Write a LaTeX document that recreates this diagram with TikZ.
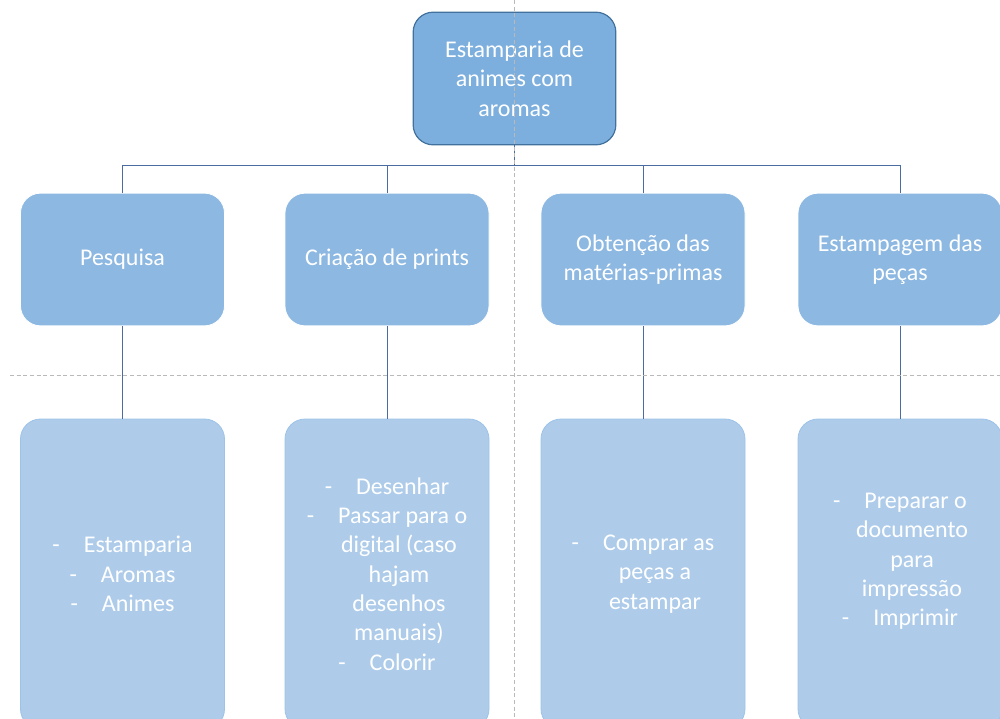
\documentclass[tikz,border=0pt]{standalone}
\usepackage{fontspec}
\setmainfont{Carlito}
\usetikzlibrary{calc}
\definecolor{azulTopo}{RGB}{124,175,221}
\definecolor{bordaTopo}{RGB}{65,113,156}
\definecolor{azulMeio}{RGB}{140,184,226}
\definecolor{azulBaixo}{RGB}{174,204,234}
\definecolor{bordaBaixo}{RGB}{157,195,232}
\definecolor{linhaAzul}{RGB}{74,108,160}
\definecolor{guia}{RGB}{185,185,185}
\tikzset{
  caixa/.style={rounded corners=15pt, text=white, align=center,
    font=\fontsize{18}{22}\selectfont, inner sep=0pt},
  topo/.style={caixa, draw=bordaTopo, line width=0.9pt, fill=azulTopo,
    minimum width=152pt, minimum height=99.5pt},
  etapa/.style={caixa, draw=white, line width=0.6pt, fill=azulMeio,
    minimum width=153pt, minimum height=99.5pt},
  tarefa/.style={caixa, draw=bordaBaixo, line width=0.6pt, fill=azulBaixo,
    minimum width=153pt, minimum height=232.5pt},
  ligacao/.style={draw=linhaAzul, line width=0.75pt},
  guiaTracejada/.style={draw=guia, line width=0.6pt, dash pattern=on 3pt off 2pt}
}
\newcommand{\traco}{-\hspace{1em}}
\newcommand{\recuo}{\hspace*{1em}}
\begin{document}
\begin{tikzpicture}[x=0.75pt, y=-0.75pt]
  %%%%% START %%%%%
  \clip (0,0) rectangle (1000,718);
  \useasboundingbox (0,0) rectangle (1000,718);

  \node[topo] (raiz) at (514.5,78.5) {Estamparia de\\animes com\\aromas};

  \node[etapa] (pesquisa) at (122.5,259.5) {Pesquisa};
  \node[etapa] (criacao) at (387,259.5) {Criação de prints};
  \node[etapa] (obtencao) at (643,259.5) {Obtenção das\\matérias-primas};
  \node[etapa] (estampagem) at (900,259.5) {Estampagem das\\peças};

  \node[tarefa] (tarPesquisa) at (122.5,574) {\traco Estamparia\\\traco Aromas\\\traco Animes};
  \node[tarefa] (tarCriacao) at (387,574) {\traco Desenhar\\\traco Passar para o\\\recuo digital (caso\\\recuo hajam\\\recuo desenhos\\\recuo manuais)\\\traco Colorir};
  \node[tarefa] (tarObtencao) at (643,574) {\traco Comprar as\\\recuo peças a\\\recuo estampar};
  \node[tarefa] (tarEstampagem) at (900,574) {\traco Preparar o\\\recuo documento\\\recuo para\\\recuo impressão\\\traco Imprimir\\\mbox{}};

  % ligacoes
  \coordinate (juncao) at (514.5,165);
  \draw[ligacao] (raiz.south) -- (juncao);
  \foreach \e in {pesquisa,criacao,obtencao,estampagem}
    \draw[ligacao] (juncao) -| (\e.north);
  \draw[ligacao] (pesquisa.south) -- (tarPesquisa.north);
  \draw[ligacao] (criacao.south) -- (tarCriacao.north);
  \draw[ligacao] (obtencao.south) -- (tarObtencao.north);
  \draw[ligacao] (estampagem.south) -- (tarEstampagem.north);

  % guias
  \draw[guiaTracejada] (514.5,0) -- (514.5,718);
  \draw[guiaTracejada] (10,375) -- (1000,375);
  %%%%% END %%%%%
\end{tikzpicture}
\end{document}
